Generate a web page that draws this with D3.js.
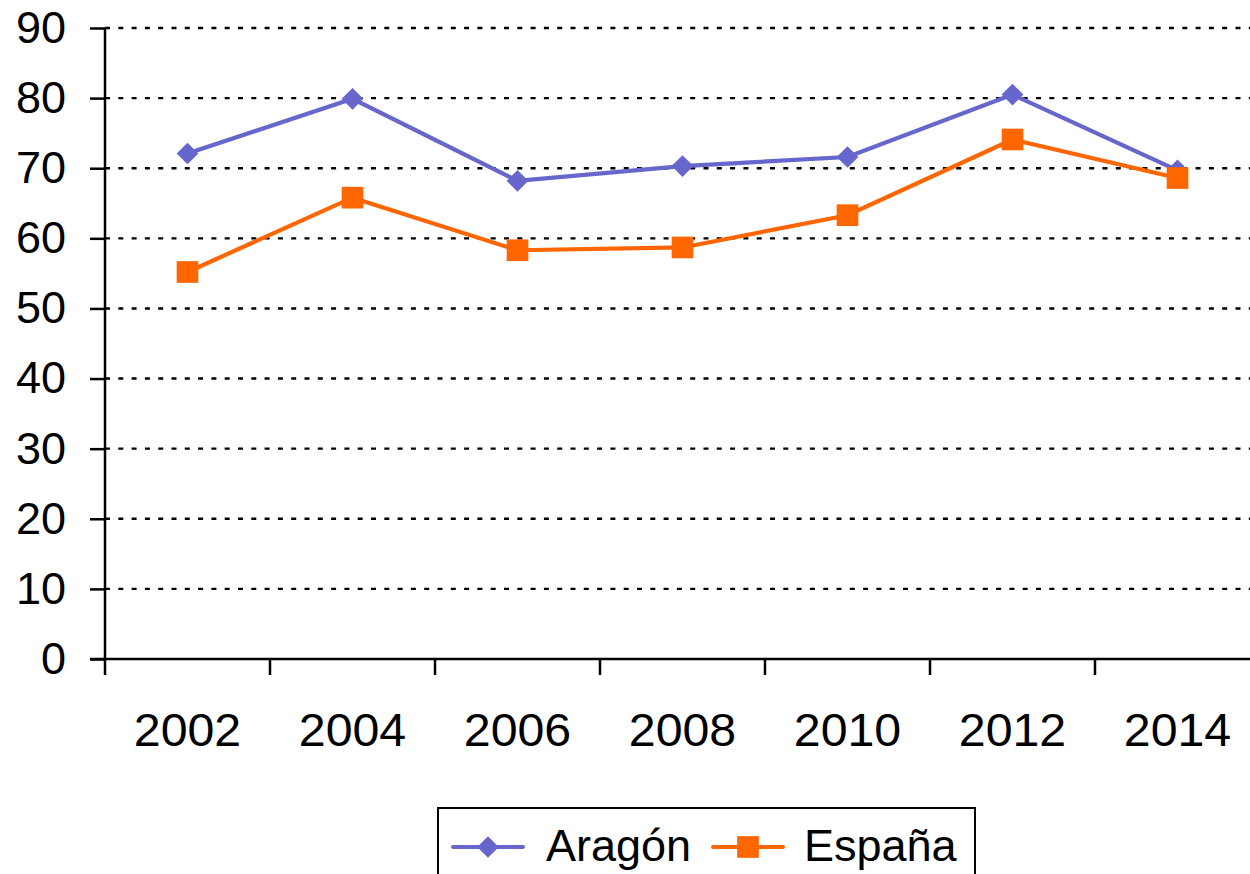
<!DOCTYPE html>
<html>
<head>
<meta charset="utf-8">
<script src="https://cdn.jsdelivr.net/npm/d3@7"></script>
<style>
  html, body { margin: 0; padding: 0; background: #fff; }
  svg { display: block; }
  text { font-family: "Liberation Sans", Arial, sans-serif; fill: #000; }
</style>
</head>
<body>
<svg id="chart" width="1250" height="874"></svg>
<script>
const years = ["2002", "2004", "2006", "2008", "2010", "2012", "2014"];
const aragon = [72.1, 79.9, 68.2, 70.3, 71.6, 80.5, 69.7];
const espana = [55.2, 65.8, 58.3, 58.7, 63.3, 74.1, 68.6];
const yTicks = [0, 10, 20, 30, 40, 50, 60, 70, 80, 90];
const seriesNames = ["Aragón", "España"];
const seriesColors = ["#6666CC", "#FF6600"];

(function () {
const svg = d3.select("#chart");
const pLeft = 105, pRight = 1260, pTop = 28, pBottom = 659;

const x = d3.scaleBand().domain(years).range([pLeft, pRight]).padding(0);
const y = d3.scaleLinear().domain([0, 90]).range([pBottom, pTop]);

// gridlines
svg.append("g").selectAll("line")
  .data(yTicks.filter(d => d > 0))
  .join("line")
  .attr("x1", pLeft).attr("x2", 1250)
  .attr("y1", d => y(d)).attr("y2", d => y(d))
  .attr("stroke", "#000").attr("stroke-width", 2.4)
  .attr("stroke-dasharray", "5,8.3");

// y axis
const yAxis = svg.append("g").attr("transform", `translate(${pLeft},0)`)
  .call(d3.axisLeft(y).tickValues(yTicks).tickSize(15).tickPadding(24).tickFormat(d3.format("d")));
yAxis.select(".domain").attr("stroke", "#000").attr("stroke-width", 2.5)
  .attr("d", `M0,${pTop}V${pBottom}`);
yAxis.selectAll(".tick line").attr("stroke", "#000").attr("stroke-width", 2.5);
yAxis.selectAll(".tick text").attr("font-size", 45).attr("fill", "#000")
  .attr("font-family", "'Liberation Sans', Arial, sans-serif");

// x axis
const xAxisG = svg.append("g").attr("transform", `translate(0,${pBottom})`);
xAxisG.append("line").attr("x1", 90).attr("x2", 1250).attr("y1", 0).attr("y2", 0)
  .attr("stroke", "#000").attr("stroke-width", 2.5);
xAxisG.selectAll("line.xt")
  .data(years)
  .join("line").attr("class", "xt")
  .attr("x1", d => x(d)).attr("x2", d => x(d))
  .attr("y1", 0).attr("y2", 16)
  .attr("stroke", "#000").attr("stroke-width", 2.5);
xAxisG.selectAll("text")
  .data(years)
  .join("text")
  .attr("transform", d => `translate(${x(d) + x.bandwidth() / 2},87) scale(1.05,1)`)
  .attr("text-anchor", "middle")
  .attr("font-size", 46)
  .text(d => d);

const line = d3.line().x((d, i) => x(years[i]) + x.bandwidth() / 2).y(d => y(d));
const diamond = d3.symbol().type(d3.symbolDiamond2).size(300);
const square = d3.symbol().type(d3.symbolSquare).size(470);
const symbols = [diamond, square];

[aragon, espana].forEach((vals, s) => {
  svg.append("path").datum(vals)
    .attr("d", line).attr("fill", "none")
    .attr("stroke", seriesColors[s]).attr("stroke-width", 4.2);
  svg.append("g").selectAll("path")
    .data(vals).join("path")
    .attr("transform", (d, i) => `translate(${x(years[i]) + x.bandwidth() / 2},${y(d)})`)
    .attr("d", symbols[s]())
    .attr("fill", seriesColors[s]);
});

// legend
const lg = svg.append("g");
lg.append("rect").attr("x", 438).attr("y", 808).attr("width", 537).attr("height", 80)
  .attr("fill", "#fff").attr("stroke", "#000").attr("stroke-width", 2);
const legendItems = [
  { x1: 453, x2: 523, tx: 546 },
  { x1: 713, x2: 783, tx: 804 }
];
legendItems.forEach((it, s) => {
  lg.append("line").attr("x1", it.x1).attr("x2", it.x2).attr("y1", 847).attr("y2", 847)
    .attr("stroke", seriesColors[s]).attr("stroke-width", 4).attr("stroke-linecap", "round");
  lg.append("path").attr("transform", `translate(${(it.x1 + it.x2) / 2},847)`)
    .attr("d", symbols[s]()).attr("fill", seriesColors[s]);
  lg.append("text").attr("x", it.tx).attr("y", 861).attr("font-size", 45).text(seriesNames[s]);
});
})();
</script>
</body>
</html>
